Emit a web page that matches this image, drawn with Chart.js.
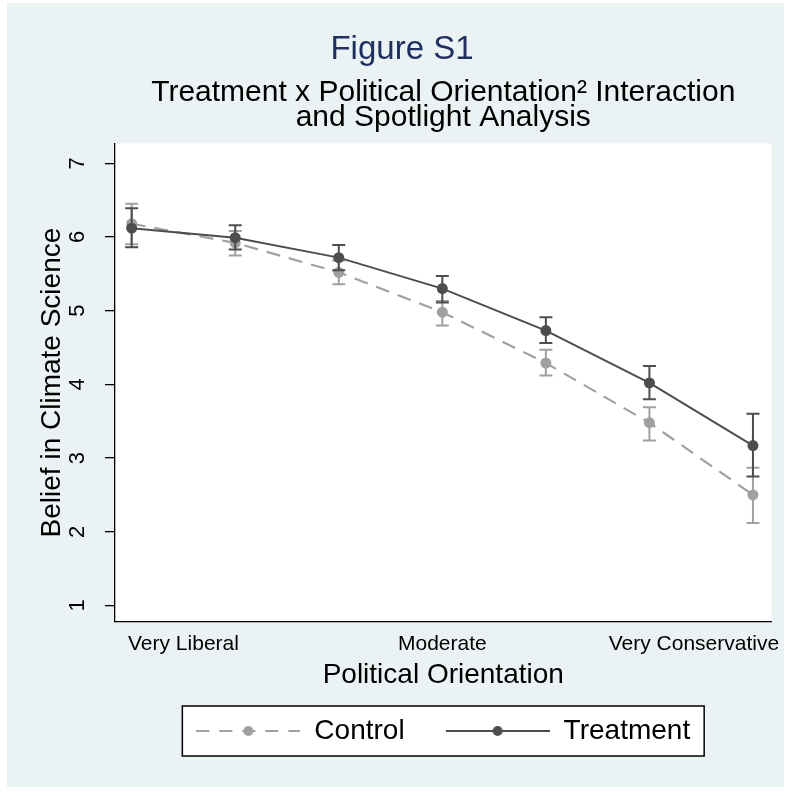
<!DOCTYPE html>
<html>
<head>
<meta charset="utf-8">
<script src="https://cdn.jsdelivr.net/npm/chart.js@4.4.1/dist/chart.umd.min.js"></script>
<style>
html,body{margin:0;padding:0;background:#fff;}
#c{display:block;}
</style>
</head>
<body>
<canvas id="c" width="791" height="793"></canvas>
<script>
// ---- data ----
const xValues = [1, 2, 3, 4, 5, 6, 7];
const controlMean = [6.18, 5.92, 5.52, 4.98, 4.29, 3.48, 2.50];
const controlLow  = [5.90, 5.75, 5.36, 4.80, 4.12, 3.24, 2.12];
const controlHigh = [6.45, 6.08, 5.68, 5.13, 4.47, 3.69, 2.87];
const treatMean   = [6.12, 5.99, 5.72, 5.30, 4.73, 4.02, 3.17];
const treatLow    = [5.86, 5.83, 5.55, 5.11, 4.56, 3.80, 2.75];
const treatHigh   = [6.39, 6.16, 5.89, 5.47, 4.91, 4.25, 3.60];
const xTickValues = [1.5, 4, 6.43];
const xTickLabels = ['Very Liberal', 'Moderate', 'Very Conservative'];
const yTickValues = [1, 2, 3, 4, 5, 6, 7];
const seriesNames = ['Control', 'Treatment'];

const FONT = "'Liberation Sans', Arial, Helvetica, sans-serif";
Chart.defaults.font.family = FONT;
Chart.defaults.color = '#000';

const CONTROL_COLOR = '#A0A0A0';
const TREAT_COLOR = '#4D4D4D';

function makeLegendSymbol(color, dash, lw) {
  const c = document.createElement('canvas');
  c.width = 104; c.height = 14;
  const g = c.getContext('2d');
  g.strokeStyle = color; g.lineWidth = lw; g.setLineDash(dash);
  g.beginPath(); g.moveTo(0, 7); g.lineTo(104, 7); g.stroke();
  g.setLineDash([]);
  g.fillStyle = color;
  g.beginPath(); g.arc(52, 7, 5, 0, Math.PI * 2); g.fill();
  return c;
}
const symControl = makeLegendSymbol(CONTROL_COLOR, [13, 10], 2);
const symTreat = makeLegendSymbol(TREAT_COLOR, [], 2);

const bgPlugin = {
  id: 'bgPlugin',
  beforeDraw(chart) {
    const {ctx, chartArea: a, legend} = chart;
    ctx.save();
    ctx.fillStyle = '#ffffff';
    ctx.fillRect(0, 0, chart.width, chart.height);
    ctx.fillStyle = '#EAF2F3';
    ctx.fillRect(7, 3, 777, 784);
    ctx.fillStyle = '#ffffff';
    ctx.fillRect(a.left, a.top, a.right - a.left, a.bottom - a.top);
    const hb = legend && legend.legendHitBoxes;
    if (hb && hb.length) {
      const l = Math.min(...hb.map(h => h.left)) - 14;
      const r = Math.max(...hb.map(h => h.left + h.width)) + 14;
      const cy = hb[0].top + hb[0].height / 2;
      ctx.fillStyle = '#ffffff';
      ctx.fillRect(l, cy - 25, r - l, 50);
      ctx.strokeStyle = '#000';
      ctx.lineWidth = 1.5;
      ctx.strokeRect(l, cy - 25, r - l, 50);
    }
    ctx.restore();
  }
};

const errorBarPlugin = {
  id: 'errorBarPlugin',
  beforeDatasetDraw(chart, args) {
    const ds = chart.data.datasets[args.index];
    if (!ds.errLow) return;
    const {ctx} = chart;
    const xs = chart.scales.x, ys = chart.scales.y;
    ctx.save();
    ctx.strokeStyle = ds.borderColor;
    ctx.lineWidth = 2;
    ctx.setLineDash([]);
    ds.data.forEach((p, i) => {
      const px = xs.getPixelForValue(p.x);
      const y1 = ys.getPixelForValue(ds.errLow[i]);
      const y2 = ys.getPixelForValue(ds.errHigh[i]);
      ctx.beginPath();
      ctx.moveTo(px, y1); ctx.lineTo(px, y2);
      ctx.moveTo(px - 6.5, y1); ctx.lineTo(px + 6.5, y1);
      ctx.moveTo(px - 6.5, y2); ctx.lineTo(px + 6.5, y2);
      ctx.stroke();
    });
    ctx.restore();
  }
};

new Chart(document.getElementById('c'), {
  type: 'line',
  data: {
    datasets: [
      {
        label: seriesNames[0],
        data: xValues.map((x, i) => ({x: x, y: controlMean[i]})),
        errLow: controlLow, errHigh: controlHigh,
        borderColor: CONTROL_COLOR, backgroundColor: CONTROL_COLOR,
        borderWidth: 2.2, borderDash: [14, 9],
        pointRadius: 5.5, pointBackgroundColor: CONTROL_COLOR, pointBorderWidth: 0,
        tension: 0, fill: false, order: 2
      },
      {
        label: seriesNames[1],
        data: xValues.map((x, i) => ({x: x, y: treatMean[i]})),
        errLow: treatLow, errHigh: treatHigh,
        borderColor: TREAT_COLOR, backgroundColor: TREAT_COLOR,
        borderWidth: 2,
        pointRadius: 5.5, pointBackgroundColor: TREAT_COLOR, pointBorderWidth: 0,
        tension: 0, fill: false, order: 1
      }
    ]
  },
  options: {
    responsive: false,
    animation: false,
    devicePixelRatio: 1,
    layout: {padding: {left: 32.5, right: 19.5, top: 0, bottom: 38}},
    plugins: {
      title: {
        display: true, text: 'Figure S1', color: '#1f3060',
        font: {size: 33, weight: 'normal', lineHeight: 1.2},
        padding: {top: 30.5, bottom: 0}
      },
      subtitle: {
        display: true, fullSize: false,
        text: ['Treatment x Political Orientation\u00B2 Interaction', 'and Spotlight Analysis'],
        color: '#000',
        font: {size: 30, weight: 'normal', lineHeight: 0.83},
        padding: {top: 10, bottom: 13.5}
      },
      legend: {
        position: 'bottom', fullSize: false,
        labels: {
          usePointStyle: true, pointStyleWidth: 104, padding: 41,
          color: '#000', font: {size: 28},
          generateLabels: () => [
            {text: seriesNames[0], pointStyle: symControl, fillStyle: CONTROL_COLOR, strokeStyle: CONTROL_COLOR, lineWidth: 0, hidden: false, datasetIndex: 0, fontColor: '#000'},
            {text: seriesNames[1], pointStyle: symTreat, fillStyle: TREAT_COLOR, strokeStyle: TREAT_COLOR, lineWidth: 0, hidden: false, datasetIndex: 1, fontColor: '#000'}
          ]
        }
      },
      tooltip: {enabled: false}
    },
    scales: {
      x: {
        type: 'linear', min: 0.839, max: 7.179,
        afterBuildTicks: s => { s.ticks = xTickValues.map(v => ({value: v})); },
        afterFit: s => { s.height = 54.3; },
        grid: {display: false, drawTicks: false},
        border: {display: true, color: '#000', width: 1.3},
        ticks: {
          autoSkip: false, maxRotation: 0, minRotation: 0, padding: 0,
          color: '#000', font: {size: 21, lineHeight: 2.12},
          callback: (v, i) => xTickLabels[i]
        },
        title: {
          display: true, text: 'Political Orientation', color: '#000',
          font: {size: 28, lineHeight: 1}, padding: {top: 0, bottom: -13}
        }
      },
      y: {
        type: 'linear', min: 0.78, max: 7.27,
        afterBuildTicks: s => { s.ticks = yTickValues.map(v => ({value: v})); },
        afterFit: s => { s.width = 82.5; },
        grid: {drawOnChartArea: false, drawTicks: true, tickLength: 10, color: '#000', lineWidth: 1.3},
        border: {display: true, color: '#000', width: 1.3},
        ticks: {
          minRotation: 90, maxRotation: 90, crossAlign: 'center', padding: 20.6,
          color: '#000', font: {size: 22},
          callback: v => String(v)
        },
        title: {
          display: true, text: 'Belief in Climate Science', color: '#000',
          font: {size: 28, lineHeight: 1}, padding: {top: 6, bottom: 0}
        }
      }
    }
  },
  plugins: [bgPlugin, errorBarPlugin]
});
</script>
</body>
</html>
